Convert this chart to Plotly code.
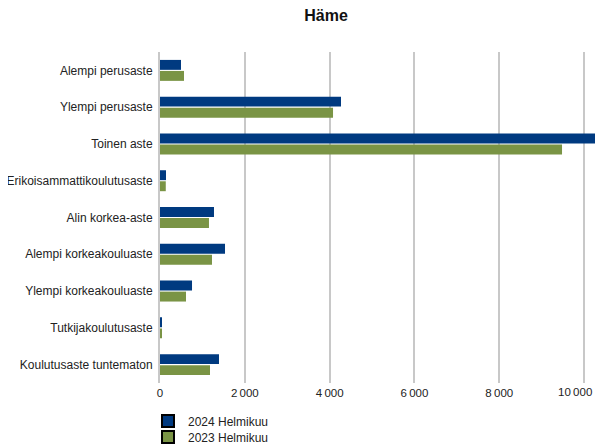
import plotly.graph_objects as go

categories = [
    "Alempi perusaste",
    "Ylempi perusaste",
    "Toinen aste",
    "Erikoisammattikoulutusaste",
    "Alin korkea-aste",
    "Alempi korkeakouluaste",
    "Ylempi korkeakouluaste",
    "Tutkijakoulutusaste",
    "Koulutusaste tuntematon",
]
values_2024 = [495, 4268, 10600, 141, 1273, 1533, 755, 47, 1391]
values_2023 = [566, 4080, 9480, 136, 1155, 1226, 613, 45, 1179]
series_names = ["2024 Helmikuu", "2023 Helmikuu"]
tick_values = [0, 2000, 4000, 6000, 8000, 10000]
tick_labels = ["0", "2\u2009000", "4\u2009000", "6\u2009000", "8\u2009000", "10\u2009000"]

blue = "#003A80"
green = "#7A9445"

# page body has an 8px margin, so the figure is smaller and everything is offset by 8px
W, H = 595, 440
L, R, T, B = 152, 0, 44, 65
plot_h = H - T - B

fig = go.Figure()
fig.add_trace(go.Bar(y=categories, x=values_2024, orientation="h", name=series_names[0],
                     offsetgroup="a", marker=dict(color=blue, line=dict(width=0)), showlegend=False))
fig.add_trace(go.Bar(y=categories, x=values_2023, orientation="h", name=series_names[1],
                     offsetgroup="b", marker=dict(color=green, line=dict(width=0)), showlegend=False))
# legend entries (with black outline like the reference), each in its own legend
for nm, col, grp, lg in zip(series_names, [blue, green], ["a", "b"], ["legend", "legend2"]):
    fig.add_trace(go.Bar(y=[None], x=[None], orientation="h", name=nm, offsetgroup=grp,
                         legend=lg,
                         marker=dict(color=col, line=dict(color="black", width=2))))

# last tick label drawn right-aligned so it stays fully visible at the right edge
shown_ticktext = tick_labels[:-1] + [""]
fig.add_annotation(x=tick_values[-1], xref="x", y=0, yref="paper", text=tick_labels[-1],
                   showarrow=False, xanchor="right", yanchor="top", xshift=10, yshift=-1,
                   font=dict(size=11.5, color="#222"))

leg_common = dict(orientation="v", xanchor="left", yanchor="top", font=dict(size=12),
                  itemwidth=30, bgcolor="rgba(0,0,0,0)", x=-12/443)
fig.update_layout(
    width=W, height=H,
    margin=dict(l=L, r=R, t=T, b=B, autoexpand=False),
    paper_bgcolor="white", plot_bgcolor="white",
    font=dict(family="Liberation Sans, Arial, sans-serif", size=12, color="#222"),
    title=dict(text="<b>Häme</b>", x=318/W, xanchor="center", y=1-7.5/H, yanchor="middle",
               font=dict(size=16, color="#111")),
    barmode="group", bargap=0.4, bargroupgap=0.1,
    showlegend=True,
    legend=dict(**leg_common, y=-23.5/plot_h),
    legend2=dict(**leg_common, y=-39.5/plot_h),
    xaxis=dict(range=[0, 10446], tickvals=tick_values, ticktext=shown_ticktext,
               tickfont=dict(size=11.5),
               showgrid=True, gridcolor="#c8c8c8", gridwidth=2, zeroline=False,
               showline=False, ticks="", ticklabelstandoff=1, fixedrange=True),
    yaxis=dict(autorange="reversed", showgrid=False, ticks="", ticklabelstandoff=3,
               showline=True, linecolor="#c8c8c8", linewidth=2, fixedrange=True),
)

fig.write_html("out.html")
